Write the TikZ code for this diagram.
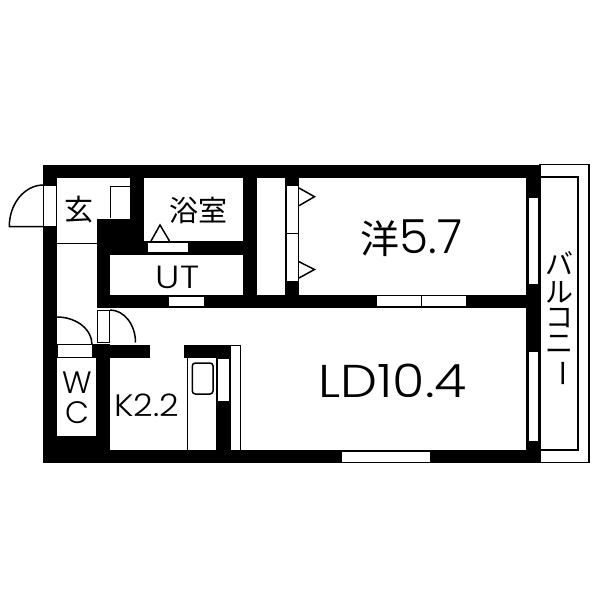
\documentclass[tikz,border=0pt]{standalone}
\usepackage{fontspec}
\setmainfont{Poppins}[UprightFont=* Light]
\newfontfamily\jpfont{Noto Sans CJK JP}
\tikzset{
  wall/.style={fill=black,draw=none},
  room/.style={fill=white,draw=none},
  panel/.style={fill=white,draw=black,line width=1pt},
  thinline/.style={draw=black,line width=1.5pt},
  roomlabel/.style={inner sep=0pt,anchor=center},
}
\newcommand{\fs}[1]{\fontsize{#1}{#1}\selectfont}
\begin{document}
\begin{tikzpicture}[x=1pt,y=-1pt]
	\useasboundingbox (0,0) rectangle (600,600);

	\draw[panel,line width=1.2pt] (540,164.5) rectangle (589,462.5);
	\draw[panel,line width=2pt] (540,177) rectangle (577.5,450);

	\fill[wall] (43,164.5) rectangle (540,463);
	\fill[room] (57,178) rectangle (130,218.5);
	\fill[room] (57,218) rectangle (97,344);
	\fill[room] (57,357) rectangle (96,436);
	\fill[room] (144.3,178) rectangle (243,240.5);
	\fill[room] (110,254.5) rectangle (243,294.5);
	\fill[room] (257,178) rectangle (285,294.5);
	\fill[room] (299,178) rectangle (526,294.5);
	\fill[room] (110,308) rectangle (526,449.5);
	\fill[room] (97,308) rectangle (110,344);

	\fill[wall] (92,344.5) rectangle (149.5,357.5);
	\fill[wall] (184.3,344.5) rectangle (230,357.5);
	\fill[wall] (216,357) rectangle (230,450);

	\draw[panel] (43.5,185) rectangle (56,226.5);
	\draw[thinline] (43.5,226.5) -- (9.3,226.5) arc[start angle=180,end angle=270,x radius=34.2,y radius=41.5];
	\draw[thinline] (57,243.5) -- (97,243.5);
	\draw[thinline] (110.5,218) -- (110.5,186.7) -- (130,186.7);

	\draw[panel] (147.5,242) rectangle (188.5,252.5);
	\draw[thinline] (151,241) -- (160,225) -- (169.5,241);
	\draw[panel] (168.5,296) rectangle (204.5,306.7);

	\draw[panel] (286.5,185) rectangle (298,233);
	\draw[panel] (286.5,233) rectangle (298,281.7);
	\draw[thinline] (299,188) -- (314.5,196.7) -- (299,205.7);
	\draw[thinline] (299,261.7) -- (314.5,269.5) -- (299,278);

	\draw[panel] (376,295.7) rectangle (421.7,306.7);
	\draw[panel] (421.7,295.7) rectangle (466.7,306.7);
	\draw[panel] (528,197.7) rectangle (538.7,284);
	\draw[panel] (528.3,351) rectangle (538.7,441.7);
	\draw[panel] (341.7,451) rectangle (430.7,462);

	\draw[panel] (57,344.5) rectangle (92,357);
	\draw[thinline] (57,317) arc[start angle=270,end angle=360,x radius=35,y radius=27.5];
	\draw[panel] (97.7,310) rectangle (109,342.5);
	\draw[thinline] (110,310) arc[start angle=270,end angle=360,x radius=25.5,y radius=32.5];

	\draw[thinline] (187.7,357) -- (187.7,450);
	\draw[panel] (230,345) rectangle (240.7,450);
	\fill[room] (218,359) rectangle (229,400.7);
	\draw[thinline,rounded corners=3pt] (192.3,363) rectangle (213,394);

	\node[roomlabel] (genkan) at (79,210) {\jpfont\fs{29}玄};
	\node[roomlabel] (bath) at (198.5,210) {\jpfont\fs{29}浴室};
	\node[roomlabel,xscale=1.15] (ut) at (177.5,277) {\fs{32}UT};
	\node[roomlabel] (wcw) at (77,382.5) {\fs{31}W};
	\node[roomlabel] (wcc) at (77,413) {\fs{31}C};
	\node[roomlabel,xscale=1.1] (kitchen) at (146.5,405.5) {\fs{31}K2.2};
	\node[roomlabel] (western) at (411.5,238) {\jpfont\fs{39}洋\rmfamily\fs{47}5.7};
	\node[roomlabel,xscale=1.14] (living) at (392.5,381) {\fs{46}LD10.4};
	\node[roomlabel] (bal1) at (559,263) {\jpfont\fs{28}バ};
	\node[roomlabel] (bal2) at (559,292) {\jpfont\fs{28}ル};
	\node[roomlabel] (bal3) at (559,318) {\jpfont\fs{28}コ};
	\node[roomlabel] (bal4) at (559,344.5) {\jpfont\fs{28}ニ};
	\node[roomlabel,rotate=-90] (bal5) at (559,373) {\jpfont\fs{28}ー};
\end{tikzpicture}
\end{document}
